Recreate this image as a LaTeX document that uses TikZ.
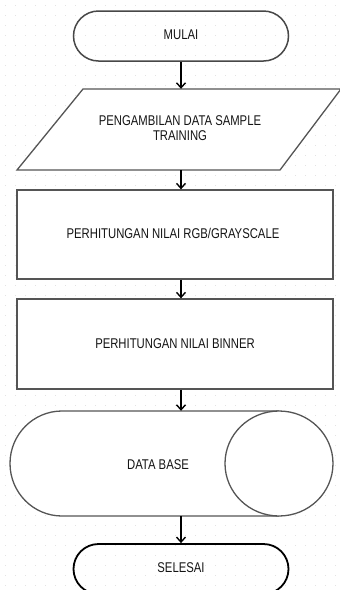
\documentclass[tikz,border=0pt]{standalone}
\usepackage{fontspec}
\usepackage{graphicx}
\setmainfont{Liberation Sans}
\usetikzlibrary{shapes.misc,arrows.meta}
\definecolor{edgegray}{HTML}{555555}
\definecolor{txt}{HTML}{141414}
\newcommand{\tallt}[1]{\scalebox{1}[1.25]{\begin{tabular}{@{}c@{}}#1\end{tabular}}}
\begin{document}
\begin{tikzpicture}[x=1pt,y=-1pt,
  lbl/.style={font=\fontsize{11.3}{12}\selectfont, text=txt, align=center, inner sep=0pt},
  term/.style={rounded rectangle, draw=#1, line width=1.5pt, minimum width=215pt, minimum height=50pt, lbl},
  box/.style={draw=edgegray, line width=1.3pt},
  ghost/.style={draw=none, inner sep=0pt},
  arr/.style={line width=1.6pt, black, -{Straight Barb[length=5pt,width=9pt,line width=1.4pt]}}]
\useasboundingbox (0,0) rectangle (340,590);
\fill[white] (0,0) rectangle (340,590);
\begin{scope}
\clip (0,0) rectangle (340,590);
% dotted grid
\foreach \i in {0,...,33}{\foreach \j in {0,...,58}{
  \fill[gray!22] (\i*10+5,\j*10+5) rectangle ++(0.8,0.8);}}
% start
\node[term=edgegray!85!black] (mulai) at (181,36) {\tallt{MULAI}};
% parallelogram
\node[ghost, minimum width=260pt, minimum height=81pt] (pg) at (181,129.5) {};
\draw[box, fill=white] (83,89) -- (341,89) -- (280,170) -- (17,170) -- cycle;
\node[lbl] (pgt) at (180,130) {\tallt{PENGAMBILAN DATA SAMPLE\\TRAINING}};
% rect 1
\node[box, fill=white, minimum width=316pt, minimum height=89pt, lbl] (r1) at (175,234.5) {};
\node[lbl] (r1t) at (173,235) {\tallt{PERHITUNGAN NILAI RGB/GRAYSCALE}};
% rect 2
\node[box, fill=white, minimum width=316pt, minimum height=90pt, lbl] (r2) at (175,344) {};
\node[lbl] (r2t) at (175,345) {\tallt{PERHITUNGAN NILAI BINNER}};
% database (horizontal cylinder)
\node[ghost, minimum width=323pt, minimum height=105pt] (db) at (171.5,463.5) {};
\draw[box, fill=white] (279,411) -- (62,411) arc[start angle=90, end angle=270, x radius=52, y radius=-52.5] -- (279,516);
\draw[box, fill=white] (279,463.5) ellipse[x radius=54, y radius=52.5];
\node[lbl] (dbt) at (158,466) {\tallt{DATA BASE}};
% end
\node[term=black, line width=1.8pt] (selesai) at (181,569) {\tallt{SELESAI}};
% arrows
\draw[arr] (mulai.south) -- (mulai.south |- pg.north);
\draw[arr] (mulai.south |- pg.south) -- (mulai.south |- r1.north);
\draw[arr] (mulai.south |- r1.south) -- (mulai.south |- r2.north);
\draw[arr] (mulai.south |- r2.south) -- (mulai.south |- db.north);
\draw[arr] (mulai.south |- db.south) -- (selesai.north);
\end{scope}
\end{tikzpicture}
\end{document}
